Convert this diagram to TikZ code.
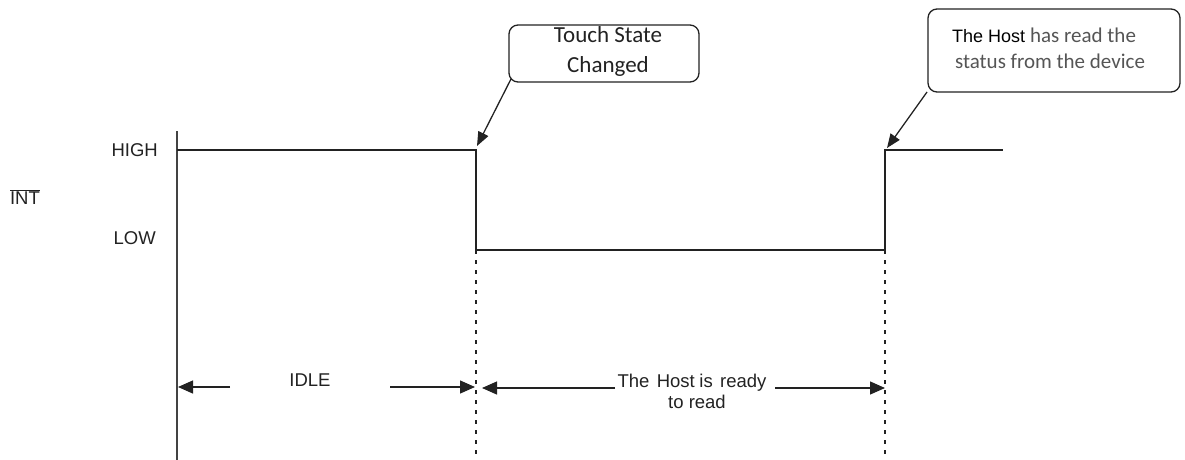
\documentclass[tikz,border=0pt]{standalone}
\usepackage{fontspec}
\setmainfont{Liberation Sans}
\newfontfamily\calib{Carlito}
\usetikzlibrary{arrows.meta}
\definecolor{ink}{HTML}{222222}
\definecolor{graytxt}{HTML}{555555}
\begin{document}
\begin{tikzpicture}[x=1pt,y=-1pt,
  sig/.style={draw=ink,line width=1.3pt},
  axisline/.style={draw=ink!85,line width=1.8pt},
  dashline/.style={draw=ink,line width=1.3pt,dash pattern=on 4pt off 6pt},
  dimarrow/.style={draw=ink,line width=1.3pt,-{Triangle[length=15pt,width=13pt]}},
  callarrow/.style={draw=ink,line width=1.3pt,-{Triangle[length=14pt,width=11pt]}},
  callout/.style={draw=ink,line width=1.3pt,rounded corners=9pt,inner sep=0pt},
  lbl/.style={font=\fontsize{18.5}{22}\selectfont,text=ink,inner sep=0pt},
  calibtxt/.style={font=\calib\fontsize{23}{28}\selectfont,text=ink,inner sep=0pt,anchor=base}
]
\useasboundingbox (0,0) rectangle (1185,460);

% axis
\coordinate (axtop) at (177,131);
\coordinate (axbot) at (177,460);
\draw[axisline] (axtop) -- (axbot);

% labels
\node[lbl,anchor=east] (high) at (158,150) {HIGH};
\node[lbl,anchor=east] (low) at (156,238) {LOW};
\node[lbl] (int) at (25,197) {$\overline{\hbox{INT}}$};

% signal
\coordinate (s0) at (177,150);
\coordinate (s1) at (476,150);
\coordinate (s2) at (476,250);
\coordinate (s3) at (885,250);
\coordinate (s4) at (885,150);
\coordinate (s5) at (1003,150);
\draw[sig] (s0) -- (s1) -- (s2) -- (s3) -- (s4) -- (s5);

% dashed lines
\coordinate (d1b) at (476,460);
\coordinate (d2b) at (885,460);
\draw[dashline] (s2) -- (d1b);
\draw[dashline] (s3) -- (d2b);

% IDLE dimension
\node[lbl,anchor=base] (idle) at (310,386) {IDLE};
\coordinate (i1t) at (230,387);
\coordinate (i1h) at (178,387);
\coordinate (i2t) at (390,387);
\coordinate (i2h) at (475,387);
\draw[dimarrow] (i1t) -- (i1h);
\draw[dimarrow] (i2t) -- (i2h);

% Host ready dimension
\node[lbl,anchor=base] (ready1) at (692,387) {The\hspace{0.4em}Host\hspace{0.25em}is\hspace{0.4em}ready};
\node[lbl,anchor=base] (ready2) at (697,408) {to read};
\coordinate (h1t) at (615,388);
\coordinate (h1h) at (482,388);
\coordinate (h2t) at (775,388);
\coordinate (h2h) at (885,388);
\draw[dimarrow] (h1t) -- (h1h);
\draw[dimarrow] (h2t) -- (h2h);

% Touch State callout
\node[callout,minimum width=190pt,minimum height=57pt] (tsbox) at (604,53.5) {};
\node[calibtxt] (ts1) at (608,42) {Touch State};
\node[calibtxt] (ts2) at (608,72) {Changed};
\coordinate (tstip) at (477,146);
\coordinate (tsstart) at (511,79);
\draw[callarrow] (tsstart) -- (tstip);

% Host read callout
\node[callout,minimum width=252pt,minimum height=83pt] (hbox) at (1054,50.5) {};
\node[font=\fontsize{18}{22}\selectfont,text=black,inner sep=0pt,anchor=base] (hr1) at (1044,43)
  {The Host {\calib\fontsize{21}{25}\selectfont\color{graytxt}has read the}};
\node[font=\calib\fontsize{21}{25}\selectfont,text=graytxt,inner sep=0pt,anchor=base] (hr2) at (1050,68)
  {status from the device};
\coordinate (hrtip) at (887,148);
\coordinate (hrstart) at (927,92);
\draw[callarrow] (hrstart) -- (hrtip);
\end{tikzpicture}
\end{document}
